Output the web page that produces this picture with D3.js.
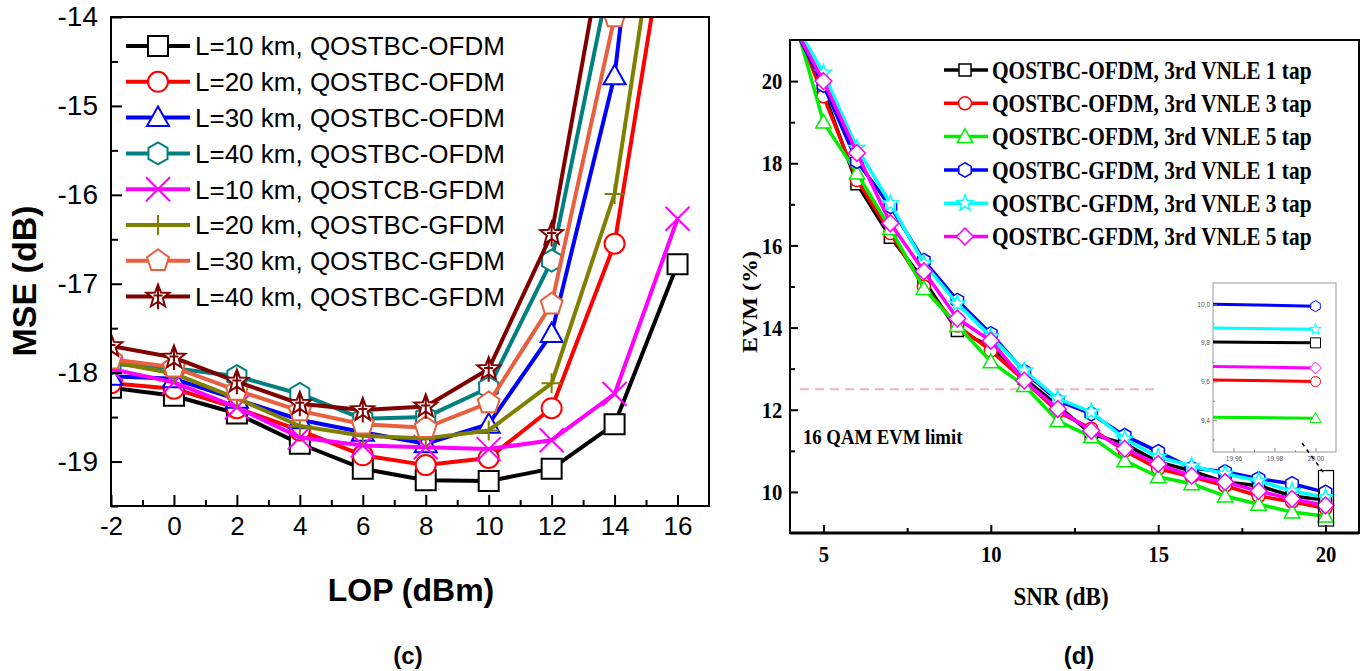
<!DOCTYPE html>
<html>
<head>
<meta charset="utf-8">
<script src="https://cdn.jsdelivr.net/npm/d3@7"></script>
<style>
  body { margin: 0; background: #fff; }
</style>
</head>
<body>
<div id="chart"></div>
<script>
/* ---------- data: panel (c) ---------- */
const lopX = [-2, 0, 2, 4, 6, 8, 10, 12, 14, 16];
const mseL10Ofdm = [-18.17, -18.26, -18.46, -18.80, -19.08, -19.21, -19.22, -19.08, -18.58, -16.78];
const mseL20Ofdm = [-18.12, -18.18, -18.40, -18.65, -18.93, -19.04, -18.96, -18.40, -16.55, -12.2];
const mseL30Ofdm = [-18.04, -18.07, -18.30, -18.53, -18.67, -18.80, -18.58, -17.56, -14.66, -8.7];
const mseL40Ofdm = [-17.90, -17.95, -18.04, -18.24, -18.52, -18.50, -18.17, -16.74, -13.29, null];
const mseL10Gfdm = [-17.96, -18.11, -18.39, -18.73, -18.82, -18.84, -18.86, -18.76, -18.24, -16.27];
const mseL20Gfdm = [-17.88, -18.01, -18.29, -18.60, -18.71, -18.74, -18.65, -18.12, -15.99, -11.35];
const mseL30Gfdm = [-17.85, -17.94, -18.20, -18.43, -18.58, -18.62, -18.34, -17.23, -14.00, null];
const mseL40Gfdm = [-17.70, -17.83, -18.10, -18.35, -18.42, -18.38, -17.96, -16.44, -12.5, null];
const legendC = ["L=10 km, QOSTBC-OFDM", "L=20 km, QOSTBC-OFDM", "L=30 km, QOSTBC-OFDM",
  "L=40 km, QOSTBC-OFDM", "L=10 km, QOSTCB-GFDM", "L=20 km, QOSTBC-GFDM",
  "L=30 km, QOSTBC-GFDM", "L=40 km, QOSTBC-GFDM"];
const lopTicks = [-2, 0, 2, 4, 6, 8, 10, 12, 14, 16];
const mseTicks = [-19, -18, -17, -16, -15, -14];

/* ---------- data: panel (d) ---------- */
const snrX = [4, 5, 6, 7, 8, 9, 10, 11, 12, 13, 14, 15, 16, 17, 18, 19, 20];
const evmOfdm1 = [21.6, 19.75, 17.5, 16.2, 15.15, 13.93, 13.54, 12.76, 12.1, 11.41, 11.17, 10.73, 10.51, 10.24, 10.15, 9.9, 9.8];
const evmOfdm3 = [21.7, 19.63, 17.59, 16.3, 15.0, 14.05, 13.44, 12.71, 11.95, 11.54, 11.0, 10.56, 10.37, 10.15, 9.9, 9.76, 9.6];
const evmOfdm5 = [21.9, 19.0, 17.76, 16.41, 14.95, 14.05, 13.17, 12.59, 11.73, 11.34, 10.76, 10.37, 10.2, 9.9, 9.7, 9.51, 9.41];
const evmGfdm1 = [21.5, 19.9, 18.05, 16.95, 15.63, 14.66, 13.85, 12.93, 12.22, 11.9, 11.37, 10.98, 10.58, 10.49, 10.32, 10.2, 9.99];
const evmGfdm3 = [21.6, 20.2, 18.37, 17.02, 15.56, 14.58, 13.78, 12.95, 12.27, 11.95, 11.29, 10.85, 10.63, 10.44, 10.27, 10.02, 9.87];
const evmGfdm5 = [21.5, 20.0, 18.25, 16.54, 15.37, 14.22, 13.68, 12.71, 12.02, 11.49, 11.05, 10.68, 10.39, 10.24, 10.02, 9.83, 9.67];
const legendD = ["QOSTBC-OFDM, 3rd VNLE 1 tap", "QOSTBC-OFDM, 3rd VNLE 3 tap", "QOSTBC-OFDM, 3rd VNLE 5 tap",
  "QOSTBC-GFDM, 3rd VNLE 1 tap", "QOSTBC-GFDM, 3rd VNLE 3 tap", "QOSTBC-GFDM, 3rd VNLE 5 tap"];
const snrTicks = [5, 10, 15, 20];
const evmTicks = [10, 12, 14, 16, 18, 20];
const evmLimit = 12.5;
const limitSpan = [4.3, 15];
const insetXTicks = [19.96, 19.98, 20.00];
const insetYTicks = [9.4, 9.6, 9.8, 10.0];

/* ---------- svg ---------- */
const W = 1372, H = 671;
const svg = d3.select("#chart").append("svg")
  .attr("width", W).attr("height", H);

const ARIAL = "'Liberation Sans', Arial, sans-serif";
const TIMES = "'Liberation Serif', 'Times New Roman', serif";

// marker shapes, r = half size
function markerPath(type, r) {
  const p = d3.path();
  const poly = (n, rot, rad) => {
    for (let k = 0; k < n; k++) {
      const a = rot + k * 2 * Math.PI / n;
      const x = rad * Math.cos(a), y = rad * Math.sin(a);
      k ? p.lineTo(x, y) : p.moveTo(x, y);
    }
    p.closePath();
  };
  if (type === "square") { p.rect(-r, -r, 2 * r, 2 * r); }
  else if (type === "circle") { p.moveTo(r, 0); p.arc(0, 0, r, 0, 2 * Math.PI); }
  else if (type === "triangle") { p.moveTo(0, -r * 1.1); p.lineTo(r * 1.1, r * 0.85); p.lineTo(-r * 1.1, r * 0.85); p.closePath(); }
  else if (type === "hexagon") { poly(6, -Math.PI / 2, r * 1.1); }
  else if (type === "pentagon") { poly(5, -Math.PI / 2, r * 1.15); }
  else if (type === "diamond") { p.moveTo(0, -r * 1.2); p.lineTo(r * 1.2, 0); p.lineTo(0, r * 1.2); p.lineTo(-r * 1.2, 0); p.closePath(); }
  else if (type === "cross") { p.moveTo(-r, -r); p.lineTo(r, r); p.moveTo(r, -r); p.lineTo(-r, r); }
  else if (type === "plus") { p.moveTo(-r, 0); p.lineTo(r, 0); p.moveTo(0, -r); p.lineTo(0, r); }
  else if (type === "star" || type === "starline") {
    const R = r * 1.2, ri = R * 0.42;
    for (let k = 0; k < 10; k++) {
      const a = -Math.PI / 2 + k * Math.PI / 5, rad = k % 2 ? ri : R;
      k ? p.lineTo(rad * Math.cos(a), rad * Math.sin(a)) : p.moveTo(rad * Math.cos(a), rad * Math.sin(a));
    }
    p.closePath();
    if (type === "starline") { p.moveTo(0, -R); p.lineTo(0, R * 1.05); p.moveTo(-ri * 0.9, -ri * 0.2); p.lineTo(ri * 0.9, -ri * 0.2); }
  }
  return p.toString();
}

/* ================= panel (c) ================= */
const c = { left: 111, right: 709, top: 17, bottom: 506 };
const xc = d3.scaleLinear().domain([-2, 17]).range([c.left, c.right]);
const yc = d3.scaleLinear().domain([-19.5, -14]).range([c.bottom, c.top]);

const seriesC = [
  { v: mseL10Ofdm, color: "#000000", m: "square" },
  { v: mseL20Ofdm, color: "#ff0000", m: "circle" },
  { v: mseL30Ofdm, color: "#0000ff", m: "triangle" },
  { v: mseL40Ofdm, color: "#008080", m: "hexagon" },
  { v: mseL10Gfdm, color: "#ff00ff", m: "cross" },
  { v: mseL20Gfdm, color: "#808000", m: "plus" },
  { v: mseL30Gfdm, color: "#e8603f", m: "pentagon" },
  { v: mseL40Gfdm, color: "#800000", m: "starline" }
];

svg.append("clipPath").attr("id", "clipC")
  .append("rect").attr("x", c.left).attr("y", c.top)
  .attr("width", c.right - c.left).attr("height", c.bottom - c.top);

const gc = svg.append("g");
const plotC = gc.append("g").attr("clip-path", "url(#clipC)");

const lineC = d3.line().defined(d => d[1] != null).x(d => xc(d[0])).y(d => yc(d[1]));

seriesC.forEach(s => {
  const pts = lopX.map((x, i) => [x, s.v[i]]);
  plotC.append("path").attr("d", lineC(pts))
    .attr("fill", "none").attr("stroke", s.color).attr("stroke-width", 4)
    .attr("stroke-linejoin", "round");
  plotC.selectAll(null).data(pts.filter(d => d[1] != null)).enter()
    .append("path")
    .attr("transform", d => `translate(${xc(d[0])},${yc(d[1])})`)
    .attr("d", markerPath(s.m, s.m === "cross" ? 12 : 10))
    .attr("fill", (s.m === "cross" || s.m === "plus") ? "none" : "#fff")
    .attr("stroke", s.color).attr("stroke-width", 2);
});

// axes (ticks inward)
const axC = gc.append("g");
const xAxC = axC.append("g").attr("transform", `translate(0,${c.bottom})`)
  .call(d3.axisBottom(xc).tickValues(lopTicks).tickSize(-11).tickPadding(11).tickFormat(d => d));
axC.append("g").attr("transform", `translate(0,${c.bottom})`)
  .call(d3.axisBottom(xc).tickValues(d3.range(-1, 17, 2)).tickSize(-6).tickFormat(""));
const yAxC = axC.append("g").attr("transform", `translate(${c.left},0)`)
  .call(d3.axisLeft(yc).tickValues(mseTicks).tickSize(-11).tickPadding(13).tickFormat(d => String(d)));
axC.append("g").attr("transform", `translate(${c.left},0)`)
  .call(d3.axisLeft(yc).tickValues([-19.5, -18.5, -17.5, -16.5, -15.5, -14.5]).tickSize(-7).tickFormat(""));
axC.selectAll(".domain").remove();
axC.selectAll("line").attr("stroke", "#000").attr("stroke-width", 2);
xAxC.selectAll("text").attr("font-family", ARIAL).attr("font-size", 26).attr("fill", "#000");
yAxC.selectAll("text").attr("font-family", ARIAL).attr("font-size", 28).attr("fill", "#000");

gc.append("rect").attr("x", c.left).attr("y", c.top)
  .attr("width", c.right - c.left).attr("height", c.bottom - c.top)
  .attr("fill", "none").attr("stroke", "#000").attr("stroke-width", 2);

// legend
const legC = gc.append("g");
seriesC.forEach((s, i) => {
  const y = 46 + i * 35.8;
  const g = legC.append("g").attr("transform", `translate(0,${y})`);
  g.append("line").attr("x1", 126).attr("x2", 190).attr("y1", 0).attr("y2", 0)
    .attr("stroke", s.color).attr("stroke-width", 4);
  g.append("path").attr("transform", "translate(158,0)")
    .attr("d", markerPath(s.m, s.m === "cross" ? 12 : 10))
    .attr("fill", (s.m === "cross" || s.m === "plus") ? "none" : "#fff")
    .attr("stroke", s.color).attr("stroke-width", 2);
  g.append("text").attr("x", 195).attr("y", 0).attr("dy", "0.36em")
    .attr("font-family", ARIAL).attr("font-size", 26).attr("fill", "#000")
    .text(legendC[i]);
});

gc.append("text").attr("transform", "translate(36,281) rotate(-90)")
  .attr("text-anchor", "middle").attr("font-family", ARIAL).attr("font-weight", "bold")
  .attr("font-size", 34).text("MSE (dB)");
gc.append("text").attr("x", 411).attr("y", 601)
  .attr("text-anchor", "middle").attr("font-family", ARIAL).attr("font-weight", "bold")
  .attr("font-size", 32).text("LOP (dBm)");
gc.append("text").attr("x", 408).attr("y", 664)
  .attr("text-anchor", "middle").attr("font-family", ARIAL).attr("font-weight", "bold")
  .attr("font-size", 24).text("(c)");

/* ================= panel (d) ================= */
const d = { left: 790, right: 1359, top: 40, bottom: 533 };
const xd = d3.scaleLinear().domain([4, 21]).range([d.left, d.right]);
const yd = d3.scaleLinear().domain([9, 21]).range([d.bottom, d.top]);

const seriesD = [
  { v: evmOfdm1, color: "#000000", m: "square", r: 6 },
  { v: evmOfdm3, color: "#ff0000", m: "circle", r: 6.5 },
  { v: evmOfdm5, color: "#00ee00", m: "triangle", r: 7 },
  { v: evmGfdm1, color: "#0000ff", m: "hexagon", r: 6.5 },
  { v: evmGfdm3, color: "#00ffff", m: "star", r: 7 },
  { v: evmGfdm5, color: "#ff00ff", m: "diamond", r: 7 }
];

svg.append("clipPath").attr("id", "clipD")
  .append("rect").attr("x", d.left).attr("y", d.top)
  .attr("width", d.right - d.left).attr("height", d.bottom - d.top);

const gd = svg.append("g");
const plotD = gd.append("g").attr("clip-path", "url(#clipD)");

// 16 QAM limit
plotD.append("line")
  .attr("x1", xd(limitSpan[0])).attr("x2", xd(limitSpan[1]))
  .attr("y1", yd(evmLimit)).attr("y2", yd(evmLimit))
  .attr("stroke", "#f2b3bb").attr("stroke-width", 2).attr("stroke-dasharray", "9,6");

const lineD = d3.line().x(p => xd(p[0])).y(p => yd(p[1]));
seriesD.forEach(s => {
  const pts = snrX.map((x, i) => [x, s.v[i]]);
  plotD.append("path").attr("d", lineD(pts))
    .attr("fill", "none").attr("stroke", s.color).attr("stroke-width", 3.5)
    .attr("stroke-linejoin", "round");
  plotD.selectAll(null).data(pts).enter().append("path")
    .attr("transform", p => `translate(${xd(p[0])},${yd(p[1])})`)
    .attr("d", markerPath(s.m, s.r))
    .attr("fill", "#fff").attr("stroke", s.color).attr("stroke-width", 1.5);
});

const axD = gd.append("g");
const xAxD = axD.append("g").attr("transform", `translate(0,${d.bottom})`)
  .call(d3.axisBottom(xd).tickValues(snrTicks).tickSize(-8).tickPadding(12).tickFormat(d3.format("d")));
axD.append("g").attr("transform", `translate(0,${d.bottom})`)
  .call(d3.axisBottom(xd).tickValues([7.5, 12.5, 17.5]).tickSize(-5).tickFormat(""));
const yAxD = axD.append("g").attr("transform", `translate(${d.left},0)`)
  .call(d3.axisLeft(yd).tickValues(evmTicks).tickSize(-8).tickPadding(9).tickFormat(d3.format("d")));
axD.append("g").attr("transform", `translate(0,0) translate(${d.left},0)`)
  .call(d3.axisLeft(yd).tickValues([11, 13, 15, 17, 19]).tickSize(-5).tickFormat(""));
axD.selectAll(".domain").remove();
axD.selectAll("line").attr("stroke", "#000").attr("stroke-width", 2);
axD.selectAll("text").attr("font-family", TIMES).attr("font-weight", "bold")
  .attr("font-size", 24).attr("fill", "#000").attr("transform", "scale(0.86,1)");

gd.append("rect").attr("x", d.left).attr("y", d.top)
  .attr("width", d.right - d.left).attr("height", d.bottom - d.top)
  .attr("fill", "none").attr("stroke", "#000").attr("stroke-width", 2);
gd.append("line").attr("x1", d.left).attr("x2", d.right).attr("y1", d.bottom).attr("y2", d.bottom)
  .attr("stroke", "#000").attr("stroke-width", 3);

// legend
seriesD.forEach((s, i) => {
  const y = 70 + i * 33.3;
  const g = gd.append("g").attr("transform", `translate(0,${y})`);
  g.append("line").attr("x1", 944).attr("x2", 988).attr("y1", 0).attr("y2", 0)
    .attr("stroke", s.color).attr("stroke-width", 3.5);
  g.append("path").attr("transform", "translate(965,0)")
    .attr("d", markerPath(s.m, s.r))
    .attr("fill", "#fff").attr("stroke", s.color).attr("stroke-width", 1.5);
  g.append("text").attr("transform", "translate(992,0) scale(0.855,1)").attr("dy", "0.35em")
    .attr("font-family", TIMES).attr("font-weight", "bold").attr("font-size", 25)
    .text(legendD[i]);
});

gd.append("text").attr("transform", "translate(803,444) scale(0.85,1)")
  .attr("font-family", TIMES).attr("font-weight", "bold").attr("font-size", 22)
  .text("16 QAM EVM limit");
gd.append("text").attr("transform", "translate(757,302) rotate(-90) scale(1,0.9)")
  .attr("text-anchor", "middle").attr("font-family", TIMES).attr("font-weight", "bold")
  .attr("font-size", 24).text("EVM (%)");
gd.append("text").attr("transform", "translate(1061,605) scale(0.92,1)")
  .attr("text-anchor", "middle").attr("font-family", TIMES).attr("font-weight", "bold")
  .attr("font-size", 25).text("SNR (dB)");
gd.append("text").attr("x", 1079).attr("y", 664)
  .attr("text-anchor", "middle").attr("font-family", ARIAL).attr("font-weight", "bold")
  .attr("font-size", 24).text("(d)");

// zoom box around SNR = 20
const zoomBox = { x0: 19.79, x1: 20.24, y0: 9.17, y1: 10.52 };
gd.append("rect").attr("x", xd(zoomBox.x0)).attr("y", yd(zoomBox.y1))
  .attr("width", xd(zoomBox.x1) - xd(zoomBox.x0)).attr("height", yd(zoomBox.y0) - yd(zoomBox.y1))
  .attr("fill", "none").attr("stroke", "#000").attr("stroke-width", 1.2);

// inset
const ins = { left: 1213, right: 1336, top: 283, bottom: 452 };
const xi = d3.scaleLinear().domain([19.95, 20.01]).range([ins.left, ins.right]);
const yi = d3.scaleLinear().domain([9.235, 10.11]).range([ins.bottom, ins.top]);
const gi = gd.append("g");
gi.append("rect").attr("x", ins.left).attr("y", ins.top)
  .attr("width", ins.right - ins.left).attr("height", ins.bottom - ins.top)
  .attr("fill", "#fff").attr("stroke", "#999").attr("stroke-width", 1);
svg.append("clipPath").attr("id", "clipI")
  .append("rect").attr("x", ins.left).attr("y", ins.top)
  .attr("width", ins.right - ins.left).attr("height", ins.bottom - ins.top);
const plotI = gi.append("g").attr("clip-path", "url(#clipI)");
const lineI = d3.line().x(p => xi(p[0])).y(p => yi(p[1]));
[0, 1, 2, 5, 4, 3].forEach(k => {
  const s = seriesD[k];
  const pts = snrX.map((x, i) => [x, s.v[i]]).slice(-2);
  plotI.append("path").attr("d", lineI(pts))
    .attr("fill", "none").attr("stroke", s.color).attr("stroke-width", 3);
  plotI.append("path").attr("transform", `translate(${xi(20)},${yi(s.v[s.v.length - 1])})`)
    .attr("d", markerPath(s.m, 5)).attr("fill", "#fff")
    .attr("stroke", s.color).attr("stroke-width", 1);
});
const fmtComma = f => v => d3.format(f)(v).replace(".", ",");
const axI = gi.append("g");
axI.append("g").attr("transform", `translate(0,${ins.bottom})`)
  .call(d3.axisBottom(xi).tickValues(insetXTicks).tickSize(-4).tickPadding(4).tickFormat(fmtComma(".2f")));
axI.append("g").attr("transform", `translate(0,${ins.bottom})`)
  .call(d3.axisBottom(xi).tickValues([19.97, 19.99]).tickSize(-2).tickFormat(""));
axI.append("g").attr("transform", `translate(${ins.left},0)`)
  .call(d3.axisLeft(yi).tickValues(insetYTicks).tickSize(-4).tickPadding(3).tickFormat(fmtComma(".1f")));
axI.append("g").attr("transform", `translate(${ins.left},0)`)
  .call(d3.axisLeft(yi).tickValues([9.3, 9.5, 9.7, 9.9]).tickSize(-2).tickFormat(""));
axI.selectAll(".domain").remove();
axI.selectAll("line").attr("stroke", "#777").attr("stroke-width", 0.8);
axI.selectAll("text").attr("font-family", ARIAL).attr("font-size", 6.5).attr("fill", "#555");

// dashed pointer from inset to zoom box
gd.append("line").attr("x1", 1302).attr("y1", 443).attr("x2", 1325).attr("y2", yd(zoomBox.y1) + 4)
  .attr("stroke", "#000").attr("stroke-width", 1.5).attr("stroke-dasharray", "4,4");
</script>
</body>
</html>
